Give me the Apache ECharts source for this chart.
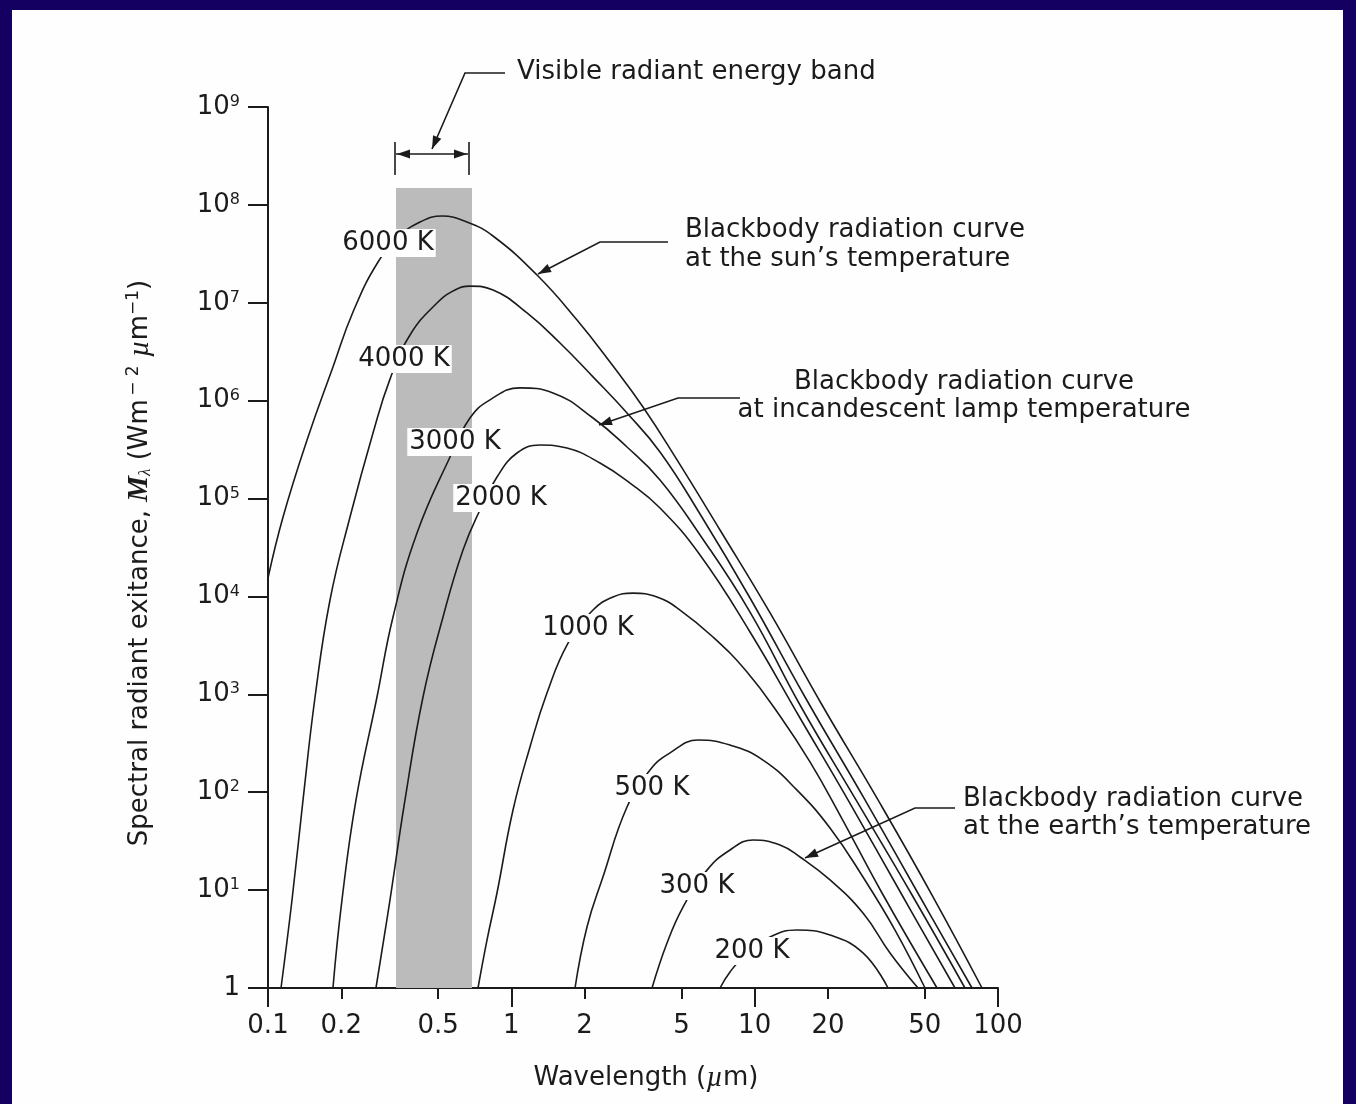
<!DOCTYPE html>
<html>
<head>
<meta charset="utf-8">
<title>Blackbody radiation curves</title>
<script src="https://cdn.jsdelivr.net/npm/echarts@6/dist/echarts.min.js"></script>
<style>
  html, body { margin: 0; padding: 0; background: #130060; }
  #sheet { position: absolute; left: 12px; top: 10px; width: 1331px; height: 1094px; background: #fefefe; }
  #chart { position: absolute; left: 0; top: 0; width: 1356px; height: 1104px; }
</style>
</head>
<body>
<div id="sheet"></div>
<div id="chart"></div>
<script>
// wavelength (um) and spectral radiant exitance (W m-2 um-1)
const wl6000 = [0.1, 0.1153, 0.1447, 0.1849, 0.2235, 0.2833, 0.3487, 0.4214, 0.5189, 0.6575, 0.8407, 1.275, 1.862, 2.544, 3.476, 4.797, 7.204, 11.57, 18.92, 32.13, 53.56, 85.98]
const m6000 = [1.54e4, 6.48e4, 3.96e5, 2.21e6, 8.05e6, 2.61e7, 4.81e7, 6.68e7, 7.69e7, 6.68e7, 4.81e7, 1.92e7, 6.67e6, 2.48e6, 8.61e5, 2.48e5, 4.77e4, 6.78e3, 778, 83.4, 8.91, 1]

const wl4000 = [0.1131, 0.1255, 0.1393, 0.1561, 0.1798, 0.2173, 0.2701, 0.3172, 0.3834, 0.4948, 0.5867, 0.6761, 0.8407, 1.160, 1.585, 2.166, 2.988, 4.083, 5.963, 9.570, 16.10, 28.41, 47.35, 78.20]
const m4000 = [1, 7.93, 83.4, 939, 9.20e3, 6.48e4, 4.67e5, 1.66e6, 4.69e6, 9.95e6, 1.35e7, 1.48e7, 1.35e7, 7.87e6, 3.88e6, 1.75e6, 7.48e5, 2.99e5, 6.95e4, 9.64e3, 939, 83.4, 8.91, 1]

const wl3000 = [0.1849, 0.2014, 0.2300, 0.2805, 0.3264, 0.4096, 0.5598, 0.6761, 0.8170, 1.085, 1.483, 2.166, 2.988, 4.083, 5.963, 9.570, 15.36, 26.09, 44.33, 73.17]
const m3000 = [1, 7.93, 83.4, 939, 6.17e3, 4.45e4, 2.66e5, 6.65e5, 1.02e6, 1.35e6, 1.20e6, 6.65e5, 3.36e5, 1.55e5, 4.25e4, 6.93e3, 778, 83.4, 8.91, 1]

const wl2000 = [0.2778, 0.3172, 0.3656, 0.4335, 0.5239, 0.6330, 0.7433, 0.8730, 1.055, 1.311, 1.693, 2.314, 3.074, 4.083, 5.963, 9.570, 15.36, 24.18, 40.32, 66.57]
const m2000 = [1, 7.93, 83.4, 939, 6.17e3, 2.98e4, 7.64e4, 1.66e5, 2.92e5, 3.52e5, 3.28e5, 2.31e5, 1.44e5, 8.00e4, 2.65e4, 4.33e3, 573, 83.4, 8.91, 1]

const wl1000 = [0.7295, 0.7943, 0.8730, 1.016, 1.193, 1.401, 1.710, 2.166, 2.617, 3.162, 3.968, 4.934, 6.741, 9.301, 12.71, 16.88, 22.42, 33.37, 56.16]
const m1000 = [1, 3.09, 9.34, 65.8, 290, 1.03e3, 3.34e3, 7.26e3, 9.87e3, 1.08e4, 9.87e3, 7.26e3, 3.85e3, 1.69e3, 601, 204, 58.5, 9.34, 1]

const wl500 = [1.827, 2.046, 2.379, 2.988, 3.715, 4.488, 5.852, 7.918, 10.82, 14.93, 20.40, 27.87, 37.74, 50.12]
const m500 = [1, 4.20, 13.6, 70.6, 169, 252, 341, 303, 213, 105, 43.1, 13.6, 3.91, 1]

const wl300 = [3.786, 4.363, 5.076, 6.370, 7.918, 9.845, 12.71, 15.36, 20.40, 27.87, 35.99, 46.91]
const m300 = [1, 2.88, 6.72, 16.0, 25.7, 32.5, 28.9, 21.8, 12.7, 5.84, 2.28, 1]

const wl200 = [7.204, 7.918, 9.127, 11.57, 14.93, 20.40, 27.87, 35.32]
const m200 = [1, 1.46, 2.17, 3.32, 3.91, 3.48, 2.28, 1]

const xMajorTicks = [0.1, 1, 10, 100]
const xMinorTicks = [0.2, 0.5, 2, 5, 20, 50]
const xTickLabels = [0.1, 0.2, 0.5, 1, 2, 5, 10, 20, 50, 100]
const yTicks = [1, 10, 1e2, 1e3, 1e4, 1e5, 1e6, 1e7, 1e8, 1e9]
const visibleBand = [0.3357, 0.6893]
const visibleBandTop = 1.49e8

const curves = [
  ['6000 K', wl6000, m6000],
  ['4000 K', wl4000, m4000],
  ['3000 K', wl3000, m3000],
  ['2000 K', wl2000, m2000],
  ['1000 K', wl1000, m1000],
  ['500 K', wl500, m500],
  ['300 K', wl300, m300],
  ['200 K', wl200, m200]
]

const ink = '#1b1b1b'
const paper = '#fefefe'
const font = 'DejaVu Sans'

function txt(str, x, y, align, bg) {
  return {
    type: 'text', z: 100, silent: true,
    style: {
      text: str, x: x, y: y, align: align, verticalAlign: 'middle',
      fill: ink, fontFamily: font, fontSize: 26,
      backgroundColor: bg ? paper : null, padding: bg ? [1, 2, 1, 2] : 0
    }
  }
}
function line(points) {
  return { type: 'polyline', z: 100, silent: true, shape: { points: points }, style: { stroke: ink, lineWidth: 1.6, fill: null } }
}
function head(tip, from) {
  const dx = tip[0] - from[0], dy = tip[1] - from[1]
  const d = Math.hypot(dx, dy), ux = dx / d, uy = dy / d
  const bx = tip[0] - ux * 13, by = tip[1] - uy * 13
  return {
    type: 'polygon', z: 100, silent: true,
    shape: { points: [tip, [bx - uy * 4.5, by + ux * 4.5], [bx + uy * 4.5, by - ux * 4.5]] },
    style: { fill: ink }
  }
}

const graphics = [
  // visible band bracket and leader
  line([[395, 142], [395, 175]]),
  line([[469, 142], [469, 175]]),
  line([[396, 154], [468, 154]]),
  head([397, 154], [430, 154]),
  head([467, 154], [430, 154]),
  line([[505, 73], [465, 73], [432, 149]]),
  head([432, 149], [465, 73]),
  txt('Visible radiant energy band', 517, 72, 'left'),
  // sun
  line([[668, 242], [600, 242], [538, 274]]),
  head([538, 274], [600, 242]),
  txt('Blackbody radiation curve', 685, 230, 'left'),
  txt('at the sun\u2019s temperature', 685, 259, 'left'),
  // incandescent lamp
  line([[740, 398], [678, 398], [599, 425]]),
  head([599, 425], [678, 398]),
  txt('Blackbody radiation curve', 964, 382, 'center'),
  txt('at incandescent lamp temperature', 964, 410, 'center'),
  // earth
  line([[955, 808], [915, 808], [805, 858]]),
  head([805, 858], [915, 808]),
  txt('Blackbody radiation curve', 963, 799, 'left'),
  txt('at the earth\u2019s temperature', 963, 827, 'left'),
  // curve labels
  txt('6000 K', 388, 243, 'center', true),
  txt('4000 K', 404, 359, 'center', true),
  txt('3000 K', 455, 442, 'center', true),
  txt('2000 K', 501, 498, 'center', true),
  txt('1000 K', 588, 628, 'center', true),
  txt('500 K', 652, 788, 'center', true),
  txt('300 K', 697, 886, 'center', true),
  txt('200 K', 752, 951, 'center', true),
  // axis titles
  {
    type: 'text', z: 100, silent: true, x: 646, y: 1078,
    style: {
      text: 'Wavelength ({u|\u00b5}m)', x: 0, y: 0, align: 'center', verticalAlign: 'middle',
      fill: ink, fontFamily: font, fontSize: 26,
      rich: { u: { fill: ink, fontFamily: 'Liberation Serif', fontStyle: 'italic', fontSize: 29 } }
    }
  },
  {
    type: 'text', z: 100, silent: true, x: 140, y: 563, rotation: Math.PI / 2,
    style: {
      text: 'Spectral radiant exitance, {m|M}{l|\u03bb} (Wm{p|\u2009\u2212 2} {u|\u00b5}m{p|\u22121})',
      x: 0, y: 0, align: 'center', verticalAlign: 'middle',
      fill: ink, fontFamily: font, fontSize: 26,
      rich: {
        m: { fill: ink, fontFamily: 'Liberation Serif', fontStyle: 'italic', fontWeight: 'bold', fontSize: 29 },
        l: { fill: ink, fontFamily: 'Liberation Serif', fontStyle: 'italic', fontSize: 17, verticalAlign: 'bottom' },
        u: { fill: ink, fontFamily: 'Liberation Serif', fontStyle: 'italic', fontSize: 29 },
        p: { fill: ink, fontFamily: font, fontSize: 17, verticalAlign: 'top' }
      }
    }
  }
]

const series = curves.map(([name, wl, m], i) => {
  const s = {
    name: name,
    type: 'line',
    xAxisIndex: 0,
    data: wl.map((x, k) => [x, m[k]]),
    smooth: 0.45,
    showSymbol: false,
    silent: true,
    z: 3,
    lineStyle: { color: ink, width: 1.6 }
  }
  if (i === 0) {
    s.markArea = {
      silent: true,
      itemStyle: { color: '#bbbbbb' },
      data: [[{ coord: [visibleBand[0], 1] }, { coord: [visibleBand[1], visibleBandTop] }]]
    }
  }
  return s
})

const chart = echarts.init(document.getElementById('chart'))
chart.setOption({
  animation: false,
  backgroundColor: 'transparent',
  grid: { left: 268, top: 107, width: 730, height: 881 },
  xAxis: [
    {
      type: 'log', logBase: 10, min: 0.1, max: 100, position: 'bottom',
      axisLine: { show: true, onZero: false, lineStyle: { color: ink, width: 2 } },
      axisTick: { show: true, customValues: xMajorTicks, length: 19, lineStyle: { color: ink, width: 2 } },
      axisLabel: {
        customValues: xTickLabels, margin: 25,
        formatter: v => String(+(+v).toPrecision(3)),
        fontFamily: font, fontSize: 26, color: ink
      },
      splitLine: { show: false },
      minorTick: { show: false }
    },
    {
      type: 'log', logBase: 10, min: 0.1, max: 100, position: 'bottom',
      axisLine: { show: false, onZero: false },
      axisTick: { show: true, customValues: xMinorTicks, length: 11, lineStyle: { color: ink, width: 2 } },
      axisLabel: { show: false },
      splitLine: { show: false }
    }
  ],
  yAxis: {
    type: 'log', logBase: 10, min: 1, max: 1e9,
    axisLine: { show: true, lineStyle: { color: ink, width: 2 } },
    axisTick: { show: true, customValues: yTicks, length: 20, lineStyle: { color: ink, width: 2 } },
    axisLabel: {
      customValues: yTicks, margin: 28,
      formatter: v => {
        const e = Math.round(Math.log10(v))
        return e === 0 ? '{b|1}' : '{b|10}{s|' + e + '}'
      },
      rich: {
        b: { fontFamily: font, fontSize: 26, color: ink },
        s: { fontFamily: font, fontSize: 16, color: ink, verticalAlign: 'top' }
      }
    },
    splitLine: { show: false }
  },
  series: series,
  graphic: { elements: graphics }
})
</script>
</body>
</html>
